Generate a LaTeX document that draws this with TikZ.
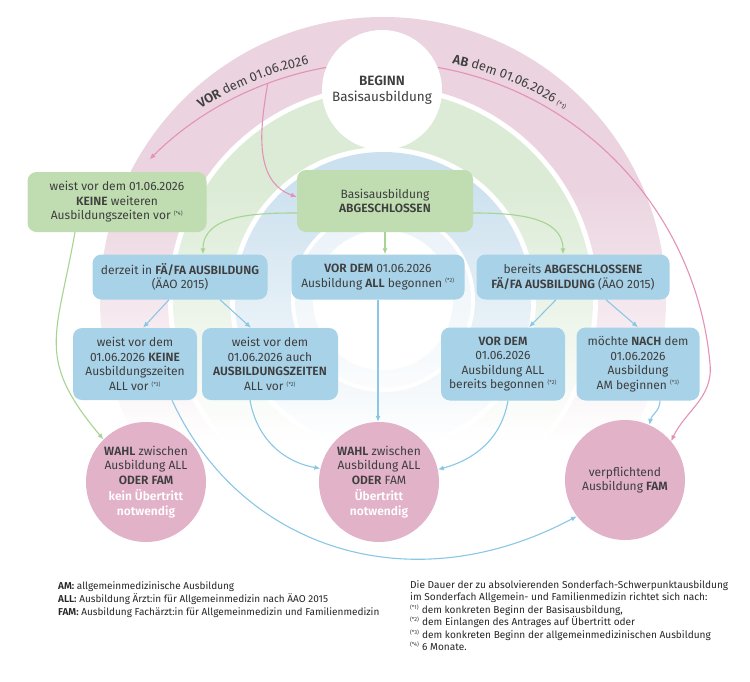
\documentclass[tikz,border=0pt]{standalone}
\usepackage{fontspec}
\IfFontExistsTF{Fira Sans SemiBold}
  {\setmainfont{Fira Sans}[BoldFont={Fira Sans SemiBold}]}
  {\setmainfont{Fira Sans}}
\usetikzlibrary{arrows.meta,decorations.text,fadings}

\definecolor{txtgray}{RGB}{62,62,62}
\definecolor{boxgreen}{RGB}{191,221,176}
\definecolor{boxblue}{RGB}{168,210,232}
\definecolor{circpink}{RGB}{226,178,201}
\definecolor{ringpink}{RGB}{235,211,223}
\definecolor{ringgreen}{RGB}{219,235,213}
\definecolor{ringblue}{RGB}{204,225,239}
\definecolor{arrgreen}{RGB}{166,212,146}
\definecolor{arrblue}{RGB}{138,199,230}
\definecolor{arrpink}{RGB}{228,146,184}

\newcommand{\boxfont}{\fontsize{12}{14.5}\selectfont}
\newcommand{\noteref}[1]{\textsuperscript{\fontsize{5.5}{6}\selectfont(*#1)}}

\tikzfading[name=ringfade, top color=transparent!100, bottom color=transparent!0]

\begin{document}
\begin{tikzpicture}[x=1pt, y=-1pt,
  box/.style={rounded corners=9pt, align=center, text=txtgray, font=\boxfont, inner sep=0pt},
  greenbox/.style={box, fill=boxgreen},
  bluebox/.style={box, fill=boxblue},
  goal/.style={circle, fill=circpink, minimum size=120pt, inner sep=0pt, align=center, text=txtgray, font=\boxfont},
  link/.style={line width=1.1pt, -{Latex[length=6pt,width=5pt]}},
  greenlink/.style={link, draw=arrgreen},
  bluelink/.style={link, draw=arrblue},
  pinklink/.style={link, draw=arrpink},
  arctext/.style={decorate, decoration={text along path, text color=txtgray, text={#1}}},
  note/.style={anchor=north west, align=left, inner sep=0pt, text=black!85}
]
\useasboundingbox (0,0) rectangle (750,681);
\fill[white] (0,0) rectangle (750,681);

\fill[ringpink] (383,300) circle[radius=283pt];
\fill[white] (383,300) circle[radius=215pt];
\fill[ringgreen] (383,300) circle[radius=210pt];
\fill[white] (383,300) circle[radius=153pt];
\fill[ringblue] (383,300) circle[radius=148pt];
\fill[white] (383,300) circle[radius=92pt];
\fill[ringblue!45] (383,300) circle[radius=88pt];
\fill[white] (383,300) circle[radius=70pt];
\fill[white, path fading=ringfade] (0,180) rectangle (750,440);
\fill[white] (0,440) rectangle (750,600);

\coordinate (arcmid) at (382,393);

\node[circle, fill=white, minimum size=120pt, inner sep=0pt, align=center, text=txtgray,
      font=\fontsize{13.5}{15.5}\selectfont] (beginn) at (382,90) {\textbf{BEGINN}\\Basisausbildung};

\node[greenbox, minimum width=179pt, minimum height=60pt] (keine) at (117,202)
  {weist vor dem 01.06.2026\\\textbf{KEINE} weiteren\\Ausbildungszeiten vor \noteref{4}};
\node[greenbox, minimum width=176pt, minimum height=62pt] (abg) at (385,201)
  {Basisausbildung\\\textbf{ABGESCHLOSSEN}};

\node[bluebox, minimum width=175pt, minimum height=45pt] (derzeit) at (180,277)
  {derzeit in \textbf{FÄ/FA AUSBILDUNG}\\(ÄAO 2015)};
\node[bluebox, minimum width=173pt, minimum height=45pt] (vordem) at (378,277)
  {\textbf{VOR DEM} 01.06.2026\\Ausbildung \textbf{ALL} begonnen \noteref{2}};
\node[bluebox, minimum width=193pt, minimum height=45pt] (bereits) at (573,277)
  {bereits \textbf{ABGESCHLOSSENE}\\\textbf{FÄ/FA AUSBILDUNG} (ÄAO 2015)};

\node[bluebox, minimum width=124pt, minimum height=72pt] (keineall) at (135,364)
  {weist vor dem\\01.06.2026 \textbf{KEINE}\\Ausbildungszeiten\\ALL vor \noteref{3}};
\node[bluebox, minimum width=136pt, minimum height=72pt] (auch) at (270,364)
  {weist vor dem\\01.06.2026 auch\\\textbf{AUSBILDUNGSZEITEN}\\ALL vor \noteref{2}};
\node[bluebox, minimum width=124pt, minimum height=73pt] (vordemb) at (503,364)
  {\textbf{VOR DEM}\\01.06.2026\\Ausbildung ALL\\bereits begonnen \noteref{2}};
\node[bluebox, minimum width=123pt, minimum height=73pt] (moechte) at (638,364)
  {möchte \textbf{NACH} dem\\01.06.2026\\Ausbildung\\AM beginnen \noteref{3}};

\node[goal] (wahl1) at (146,482)
  {\textbf{WAHL} zwischen\\Ausbildung ALL\\\textbf{ODER FAM}\\[2pt]\textcolor{white}{\textbf{kein Übertritt}}\\\textcolor{white}{\textbf{notwendig}}};
\node[goal] (wahl2) at (379,482)
  {\textbf{WAHL} zwischen\\Ausbildung ALL\\\textbf{ODER} FAM\\[2pt]\textcolor{white}{\textbf{Übertritt}}\\\textcolor{white}{\textbf{notwendig}}};
\node[goal] (fam) at (625,480) {verpflichtend\\Ausbildung \textbf{FAM}};

\path[arctext={|\fontsize{13}{15}\selectfont\bfseries|VOR|\fontsize{13}{15}\selectfont\mdseries| dem 01.06.2026}]
  ([shift={(122.5:337pt)}]arcmid) arc[start angle=122.5, end angle=92, radius=337pt];
\path[arctext={|\fontsize{13}{15}\selectfont\bfseries|AB|\fontsize{13}{15}\selectfont\mdseries| dem 01.06.2026 |\fontsize{6.5}{7}\selectfont|(*1)}]
  ([shift={(78:337pt)}]arcmid) arc[start angle=78, end angle=38, radius=337pt];

\draw[pinklink] (beginn.158) arc[start angle=100, end angle=135, radius=331pt] coordinate[pos=0.3] (vorsplit);
\draw[pinklink] (vorsplit) to[out=-100, in=160] ([yshift=4pt]abg.west);
\draw[pinklink] (beginn.22) arc[start angle=80, end angle=5, radius=331pt] to[out=-85, in=65] (fam.40);

\draw[greenlink] ([yshift=-12pt]abg.west) to[out=180, in=90] ([xshift=23pt]derzeit.north);
\draw[greenlink] (abg.south) -- (abg.south |- vordem.north);
\draw[greenlink] ([yshift=-12pt]abg.east) to[out=0, in=90] ([xshift=-10pt]bereits.north);
\draw[greenlink] ([xshift=-42pt]keine.south) to[out=-100, in=130, looseness=1.3] (wahl1.north west);

\draw[bluelink] ([xshift=-11pt]derzeit.south) -- ([xshift=8pt]keineall.north);
\draw[bluelink] ([xshift=40pt]derzeit.south) -- ([xshift=-19pt]auch.north);
\draw[bluelink] ([xshift=-17pt]bereits.south) -- ([xshift=26pt]vordemb.north);
\draw[bluelink] ([xshift=33pt]bereits.south) -- (moechte.north);
\draw[bluelink] (vordem.south) -- (vordem.south |- wahl2.north);
\draw[bluelink] ([xshift=-20pt]auch.south) to[out=-80, in=170] (wahl2.167);
\draw[bluelink] ([xshift=37pt]keineall.south) .. controls (240,548) and (410,605) .. (fam.217);
\draw[bluelink] ([xshift=5pt]vordemb.south) to[out=-100, in=15] (wahl2.12);
\draw[bluelink] ([xshift=22pt]moechte.south) to[out=-90, in=80] (fam.66);

\node[note, font=\fontsize{10}{13}\selectfont] (legende) at (58,581)
  {\textbf{AM:} allgemeinmedizinische Ausbildung\\
   \textbf{ALL:} Ausbildung Ärzt:in für Allgemeinmedizin nach ÄAO 2015\\
   \textbf{FAM:} Ausbildung Fachärzt:in für Allgemeinmedizin und Familienmedizin};
\node[note, font=\fontsize{10.1}{12.5}\selectfont] (dauer) at (410,580)
  {Die Dauer der zu absolvierenden Sonderfach-Schwerpunktausbildung\\
   im Sonderfach Allgemein- und Familienmedizin richtet sich nach:\\
   \noteref{1} dem konkreten Beginn der Basisausbildung,\\
   \noteref{2} dem Einlangen des Antrages auf Übertritt oder\\
   \noteref{3} dem konkreten Beginn der allgemeinmedizinischen Ausbildung\\
   \noteref{4} 6 Monate.};
\end{tikzpicture}
\end{document}
